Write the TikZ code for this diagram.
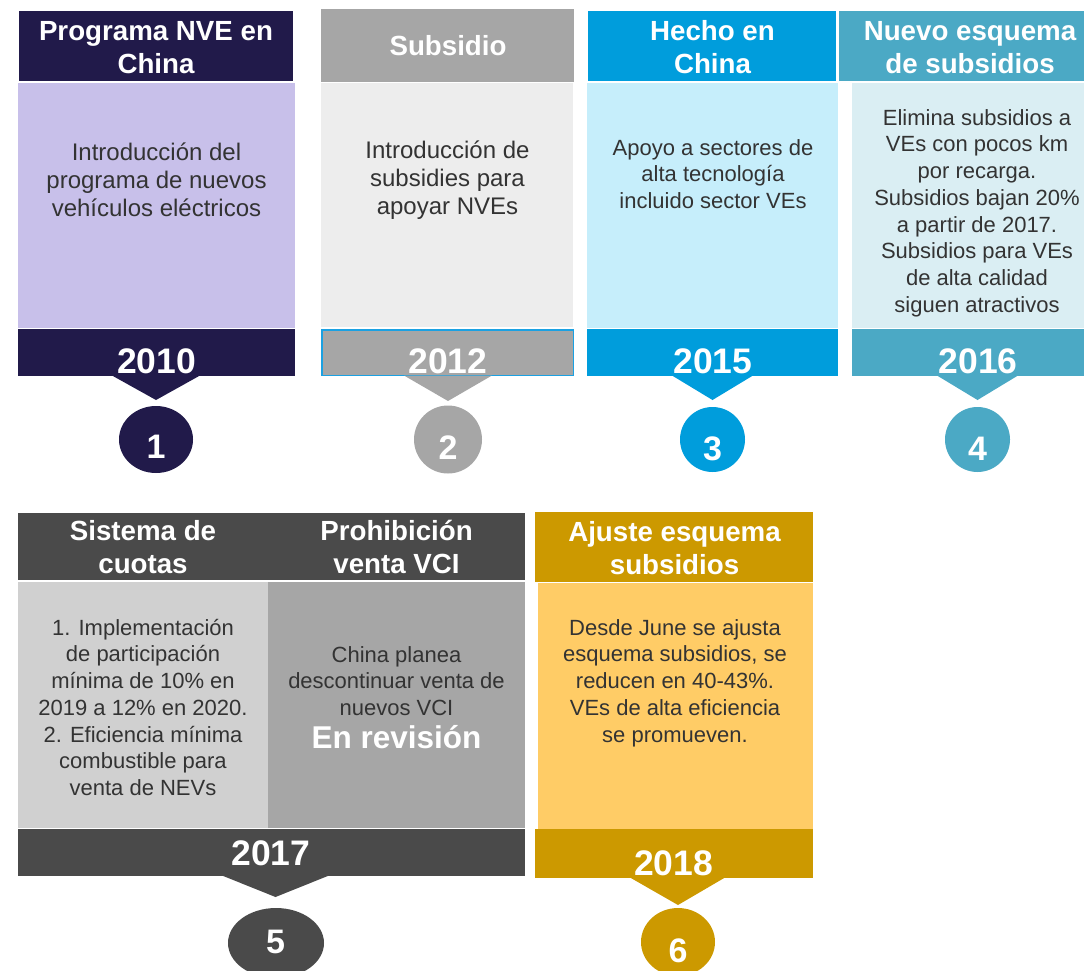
\documentclass[tikz,border=0pt]{standalone}
\usepackage{fontspec}
\setmainfont{Liberation Sans}
\definecolor{navy}{HTML}{211A4A}
\definecolor{lav}{HTML}{C8C0EA}
\definecolor{gry}{HTML}{A6A6A6}
\definecolor{lgry}{HTML}{EDEDED}
\definecolor{bordblue}{HTML}{1BA1E2}
\definecolor{blu}{HTML}{009DDC}
\definecolor{lblu}{HTML}{C6EEFB}
\definecolor{teal}{HTML}{4BA9C5}
\definecolor{lteal}{HTML}{DAEEF3}
\definecolor{dgry}{HTML}{4A4A4A}
\definecolor{mgry}{HTML}{D0D0D0}
\definecolor{gold}{HTML}{CC9900}
\definecolor{lgold}{HTML}{FFCC66}
\definecolor{txt}{HTML}{333333}
\newcommand\tst{\rule{0pt}{0.9em}}
\begin{document}
\begin{tikzpicture}[x=1pt,y=-1pt,
  hdr/.style={font=\fontsize{27.7}{33}\selectfont\bfseries, text=white, align=center, anchor=north, inner sep=0pt},
  body/.style={font=\fontsize{22}{26.7}\selectfont, text=txt, align=center, anchor=north, inner sep=0pt},
  bodyL/.style={body, font=\fontsize{24}{28.3}\selectfont},
  hdrone/.style={font=\fontsize{27.7}{33}\selectfont\bfseries, text=white, anchor=base, inner sep=0pt},
  yr/.style={font=\fontsize{35.5}{40}\selectfont\bfseries, text=white, anchor=base, inner sep=0pt},
  num/.style={font=\fontsize{34}{40}\selectfont\bfseries, text=white, anchor=base, inner sep=0pt},
  big/.style={font=\fontsize{31.5}{36}\selectfont\bfseries, text=white, anchor=base, inner sep=0pt}]
\useasboundingbox (0,0) rectangle (1084,970);
% ---------- Block 1
\fill[navy] (19,11) rectangle (293,81);
\fill[lav] (18,83) rectangle (295,328);
\fill[navy] (18,329) rectangle (295,376);
\fill[navy] (112,375.5) -- (200,375.5) -- (156,400) -- cycle;
\fill[navy] (156,439.5) ellipse [x radius=37, y radius=33.5];
\node[hdr] (h1) at (156,15.1) {\tst Programa NVE en\\China};
\node[bodyL] (b1) at (156.5,138.4) {\tst Introducción del\\programa de nuevos\\vehículos eléctricos};
\node[yr] (y1) at (156.5,373) {2010};
\node[num] (n1) at (156,458) {1};
% ---------- Block 2
\fill[gry] (321,9) rectangle (574,82);
\fill[lgry] (321,83) rectangle (573,327);
\filldraw[fill=gry, draw=bordblue, line width=1.5pt] (321.75,329.75) rectangle (573.25,375.5);
\fill[gry] (404,375.5) -- (492,375.5) -- (448,401) -- cycle;
\fill[gry] (448,439.5) circle [radius=34];
\node[hdrone] (h2) at (448,55) {Subsidio};
\node[bodyL] (b2) at (447.5,136.4) {\tst Introducción de\\subsidies para\\apoyar NVEs};
\node[yr] (y2) at (448,373) {2012};
\node[num] (n2) at (448,459) {2};
% ---------- Block 3
\fill[blu] (588,11) rectangle (836,81);
\fill[lblu] (587,83) rectangle (838,328);
\fill[blu] (587,329) rectangle (838,376);
\fill[blu] (672,375.5) -- (753,375.5) -- (712.5,400) -- cycle;
\fill[blu] (712.5,439.5) circle [radius=32.5];
\node[hdr] (h3) at (712.5,15.1) {\tst Hecho en\\China};
\node[body] (b3) at (713,135.2) {\tst Apoyo a sectores de\\alta tecnología\\incluido sector VEs};
\node[yr] (y3) at (713,373) {2015};
\node[num] (n3) at (712.5,460) {3};
% ---------- Block 4
\fill[teal] (839,11) rectangle (1084,81);
\fill[lteal] (852,83) rectangle (1084,328);
\fill[teal] (852,329) rectangle (1084,376);
\fill[teal] (937,375.5) -- (1018,375.5) -- (977.5,400) -- cycle;
\fill[teal] (977.5,439.5) circle [radius=32.5];
\node[hdr] (h4) at (970,15.1) {\tst Nuevo esquema\\de subsidios};
\node[body] (b4) at (977,105.2) {\tst Elimina subsidios a\\VEs con pocos km\\por recarga.\\Subsidios bajan 20\%\\a partir de 2017.\\Subsidios para VEs\\de alta calidad\\siguen atractivos};
\node[yr] (y4) at (978,373) {2016};
\node[num] (n4) at (977.5,460) {4};
% ---------- Block 5
\fill[dgry] (18,513) rectangle (525,580);
\fill[mgry] (18,582) rectangle (268,828);
\fill[gry] (268,582) rectangle (525,828);
\fill[dgry] (18,829) rectangle (525,876);
\fill[dgry] (222,875.5) -- (329,875.5) -- (275.5,897) -- cycle;
\fill[dgry] (276,943) ellipse [x radius=48, y radius=35];
\node[hdr] (h5a) at (143,515.1) {\tst Sistema de\\cuotas};
\node[hdr] (h5b) at (396.5,515.1) {\tst Prohibición\\venta VCI};
\node[body] (b5a) at (143,615.2) {\tst 1. Implementación\\de participación\\mínima de 10\% en\\2019 a 12\% en 2020.\\2. Eficiencia mínima\\combustible para\\venta de NEVs};
\node[body] (b5b) at (396.5,642.2) {\tst China planea\\descontinuar venta de\\nuevos VCI};
\node[big] (rev) at (396.5,748) {En revisión};
\node[yr] (y5) at (271,865) {2017};
\node[num] (n5) at (275.5,953) {5};
% ---------- Block 6
\fill[gold] (535,512) rectangle (813,582);
\fill[lgold] (538,583) rectangle (813,829);
\fill[gold] (535,829) rectangle (813,878);
\fill[gold] (630,877.5) -- (725,877.5) -- (678,905) -- cycle;
\fill[gold] (678,942) ellipse [x radius=37, y radius=34];
\node[hdr] (h6) at (674.5,516) {\tst Ajuste esquema\\subsidios};
\node[body] (b6) at (675,615.2) {\tst Desde June se ajusta\\esquema subsidios, se\\reducen en 40-43\%.\\VEs de alta eficiencia\\se promueven.};
\node[yr] (y6) at (673.5,875) {2018};
\node[num] (n6) at (678,962) {6};
\end{tikzpicture}
\end{document}
